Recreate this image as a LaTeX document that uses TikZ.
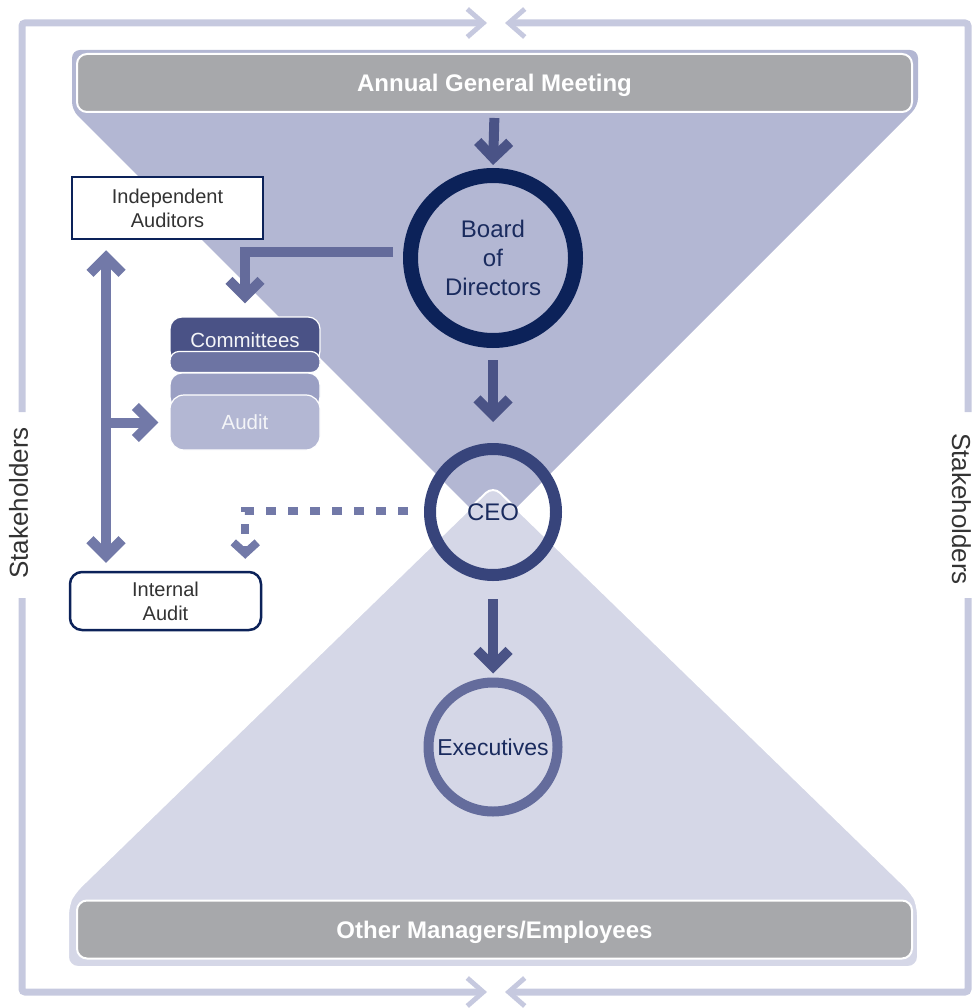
\documentclass[tikz,border=0pt]{standalone}
\usepackage{fontspec}
\setmainfont{Liberation Sans}
\usetikzlibrary{arrows.meta,calc}
\definecolor{frame}{HTML}{C6C9DF}
\definecolor{upperfill}{HTML}{B3B7D3}
\definecolor{lowerfill}{HTML}{D5D7E7}
\definecolor{barg}{HTML}{A7A8AB}
\definecolor{navy}{HTML}{0C2259}
\definecolor{navytext}{HTML}{1A2B5E}
\definecolor{ceoring}{HTML}{37447B}
\definecolor{execring}{HTML}{646C9C}
\definecolor{arrowdark}{HTML}{4A5386}
\definecolor{arrowmid}{HTML}{646B9B}
\definecolor{arrowlight}{HTML}{7279A8}
\definecolor{cone}{HTML}{4A5286}
\definecolor{ctwo}{HTML}{6D74A3}
\definecolor{cthree}{HTML}{9A9FC3}
\definecolor{cfour}{HTML}{B3B7D3}
\definecolor{textgray}{HTML}{333333}
\tikzset{
  chev/.tip={Straight Barb[sharp,length=16pt,width=32pt]},
  smallchev/.tip={Straight Barb[sharp,length=11pt,width=24pt]},
  framechev/.tip={Straight Barb[sharp,length=16pt,width=28pt,line width=0pt 0.7]},
}
\begin{document}
\begin{tikzpicture}[x=1pt,y=-1pt,
  framearrow/.style={draw=frame, line width=7pt, rounded corners=3pt, -framechev},
  mainarrow/.style={draw=arrowdark, line width=10pt, -chev},
  midarrow/.style={draw=arrowmid, line width=10pt, -chev},
  sidearrow/.style={draw=arrowlight, line width=10pt},
  dasharrow/.style={draw=arrowlight, line width=8pt, dash pattern=on 10pt off 12pt, -smallchev},
  bar/.style={fill=barg, draw=white, line width=2pt, rounded corners=10pt, minimum width=835pt, minimum height=58pt, inner sep=0pt, text height=17pt, text depth=0pt, font=\bfseries\fontsize{24}{28}\selectfont, text=white},
  ring/.style={circle, inner sep=0pt, font=\fontsize{24}{29}\selectfont, text=navytext, align=center},
  box/.style={draw=navy, line width=2.5pt, fill=white, minimum width=191pt, inner sep=0pt, font=\fontsize{20}{24}\selectfont, text=textgray, align=center},
  layer/.style={draw=white, line width=1.2pt, minimum width=150pt, inner sep=0pt, font=\fontsize{20.5}{24}\selectfont, text=white!94!cone},
  stake/.style={font=\fontsize{26}{30}\selectfont, text=textgray},
]
\useasboundingbox (0,0) rectangle (972,1008);

% outer stakeholder frame
\coordinate (la) at (22,412);
\coordinate (lb) at (22,598);
\coordinate (ra) at (968,412);
\coordinate (rb) at (968,598);
\coordinate (tl) at (487,23);
\coordinate (tr) at (505,23);
\coordinate (bl) at (487,992);
\coordinate (bre) at (505,992);
\draw[framearrow] (la) |- (tl);
\draw[framearrow] (lb) |- (bl);
\draw[framearrow] (ra) |- (tr);
\draw[framearrow] (rb) |- (bre);
\node[stake, rotate=90] (stakeL) at (18.5,503) {Stakeholders};
\node[stake, rotate=-90] (stakeR) at (961.5,509) {Stakeholders};

% funnels
\fill[upperfill, rounded corners=8pt] (72,50) -- (918,50) -- (918,106) -- (493,531) -- (72,110) -- cycle;
\filldraw[fill=lowerfill, draw=white, line width=2pt, rounded corners=10pt]
  (493,486) -- (912,893) -- (918,905) -- (918,967) -- (68,967) -- (68,905) -- (74,893) -- cycle;

% bars
\node[bar] (agm) at (494.5,83) {Annual General Meeting};
\node[bar] (omo) at (494.5,929.5) {Other Managers/Employees};

% circles
\node[ring, draw=navy, line width=15pt, minimum size=165pt] (board) at (493,258) {\raisebox{2pt}{\parbox{130pt}{\centering Board\\of\\Directors}}};
\node[ring, draw=ceoring, line width=12pt, minimum size=126pt] (ceo) at (493,512) {CEO};
\node[ring, draw=execring, line width=10pt, minimum size=129pt, font=\fontsize{23}{29}\selectfont] (exec) at (493,747) {Executives};

% boxes
\node[box, minimum height=62pt] (indep) at (167.5,208) {Independent\\Auditors};
\node[box, minimum height=58pt, rounded corners=12pt] (intaudit) at (165.5,601) {Internal\\Audit};

% committees stack
\node[layer, fill=cone, rounded corners=12pt, minimum height=46pt] (com) at (245,340) {Committees};
\node[layer, fill=ctwo, rounded corners=9pt, minimum height=21pt] (comtwo) at (245,362) {};
\node[layer, fill=cthree, rounded corners=12pt, minimum height=36pt] (comthree) at (245,391) {};
\node[layer, fill=cfour, rounded corners=14pt, minimum height=55pt] (audit) at (245,422.5) {Audit};

% main vertical arrows
\draw[mainarrow, shorten <=5pt, shorten >=3pt] (agm.south) -- (board.north);
\draw[mainarrow, shorten <=12pt, shorten >=21pt] (board.south) -- (ceo.north);
\draw[mainarrow, shorten <=18pt, shorten >=4pt] (ceo.south) -- (exec.north);

% board to committees
\draw[midarrow, shorten >=13pt] ([shift={(-10pt,6pt)}]board.west) -| (com.north);

% auditors double arrow and branch
\coordinate (vx) at (106,0);
\coordinate (br) at (106,422.5);
\draw[sidearrow, chev-chev, shorten <=10pt, shorten >=8pt] (indep.south -| vx) -- (intaudit.north -| vx);
\draw[sidearrow, -chev, shorten >=11pt] (br) -- (audit.west);

% dashed CEO to internal audit
\draw[dasharrow, shorten >=12pt] ([shift={(-16pt,1pt)}]ceo.west) -| ([xshift=-17pt]intaudit.north east);
\end{tikzpicture}
\end{document}
